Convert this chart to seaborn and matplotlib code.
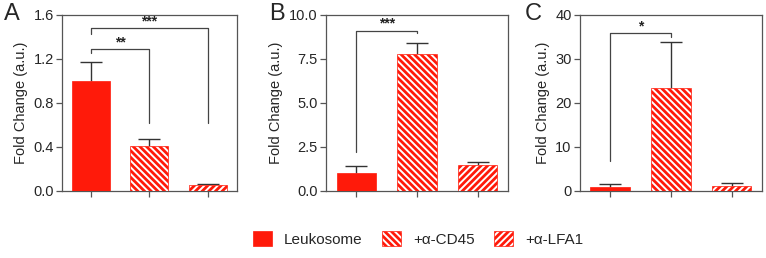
import numpy as np
import pandas as pd
import seaborn as sns
import matplotlib.pyplot as plt
import matplotlib.patches as mpatches

# Data
conditions = ['Leukosome', '+\u03b1-CD45', '+\u03b1-LFA1']
panel_letters = ['A', 'B', 'C']

means_a = [1.0, 0.41, 0.05]
errs_a = [0.17, 0.065, 0.015]
means_b = [1.0, 7.8, 1.45]
errs_b = [0.42, 0.62, 0.17]
means_c = [1.0, 23.3, 1.2]
errs_c = [0.5, 10.6, 0.6]

yticks_a = [0.0, 0.4, 0.8, 1.2, 1.6]
yticks_b = [0.0, 2.5, 5.0, 7.5, 10.0]
yticks_c = [0, 10, 20, 30, 40]
ytick_fmt = ['{:.1f}', '{:.1f}', '{:.0f}']

# significance brackets: (x1, x2, bracket y, left leg bottom, right leg bottom, label)
sig_a = [(0, 1, 1.29, 1.25, 0.62, '**'), (0, 2, 1.48, 1.43, 0.62, '***')]
sig_b = [(0, 1, 9.1, 2.2, 8.95, '***')]
sig_c = [(0, 1, 35.8, 6.7, 35.1, '*')]

hatches = ['', '\\\\\\\\\\', '/////']
red = '#ff1a0a'
spine_col = '#555555'

sns.set_style('white')
plt.rcParams['font.family'] = ['Liberation Sans', 'DejaVu Sans']
plt.rcParams['hatch.linewidth'] = 2.0

fig = plt.figure(figsize=(7.66, 2.58), dpi=100)
boxes = [[0.081, 0.26, 0.228, 0.682],
         [0.4256, 0.26, 0.2376, 0.682],
         [0.757, 0.26, 0.2376, 0.682]]
letter_x = [4 / 766, 269 / 766, 525 / 766]

panels = [(means_a, errs_a, yticks_a, sig_a),
          (means_b, errs_b, yticks_b, sig_b),
          (means_c, errs_c, yticks_c, sig_c)]

for i, (means, errs, yticks, sigs) in enumerate(panels):
    ax = fig.add_axes(boxes[i])
    df = pd.DataFrame({'Condition': conditions, 'Fold': means})
    sns.barplot(data=df, x='Condition', y='Fold', hue='Condition',
                palette=['white'] * 3, width=0.65, legend=False, ax=ax,
                errorbar=None)
    for j, bar in enumerate(ax.patches):
        if j == 0:
            bar.set_facecolor(red)
        bar.set_edgecolor(red)
        bar.set_linewidth(0.5)
        bar.set_hatch(hatches[j])
        bar.set_zorder(3)

    # upper error bars only; drop the cap drawn at the bar top
    eb = ax.errorbar(range(len(means)), means, yerr=[np.zeros(len(errs)), errs],
                     fmt='none', ecolor='#333333', elinewidth=1.0, capsize=8,
                     capthick=1.0)
    for cap in eb.lines[1]:
        if np.allclose(cap.get_ydata(), means):
            cap.set_visible(False)
        cap.set_zorder(1)
    for art in eb.lines[2]:
        art.set_zorder(1)

    for x1, x2, y, l1, l2, lab in sigs:
        ax.plot([x1, x1, x2, x2], [l1, y, y, l2], color='#444444', lw=0.9)
        ax.text((x1 + x2) / 2, y, lab, ha='center', va='bottom',
                fontsize=10, fontweight='bold', color='#222222')

    ax.set_xlim(-0.5, 2.5)
    ax.set_ylim(yticks[0], yticks[-1])
    ax.set_yticks(yticks)
    ax.set_yticklabels([ytick_fmt[i].format(t) for t in yticks])
    ax.set_xticks(range(3))
    ax.set_xticklabels([])
    ax.set_xlabel('')
    ax.set_ylabel('Fold Change (a.u.)', fontsize=10.5, labelpad=4)
    ax.tick_params(axis='both', direction='out', length=4, width=0.9,
                   color=spine_col, labelsize=10.5, pad=2, bottom=True, left=True)
    for s in ax.spines.values():
        s.set_color(spine_col)
        s.set_linewidth(0.9)
    fig.text(letter_x[i], 0.945, panel_letters[i], fontsize=17,
             ha='left', va='center')

handles = []
for j, lab in enumerate(conditions):
    fc = red if j == 0 else 'white'
    handles.append(mpatches.Patch(facecolor=fc, edgecolor=red, hatch=hatches[j],
                                  linewidth=0.5, label=lab))
fig.legend(handles=handles, loc='center', bbox_to_anchor=(0.546, 0.075),
           ncol=3, frameon=False, fontsize=11, handlelength=1.2,
           handleheight=1.2, columnspacing=1.3, handletextpad=0.8)

fig.savefig('out.png', dpi=100)
